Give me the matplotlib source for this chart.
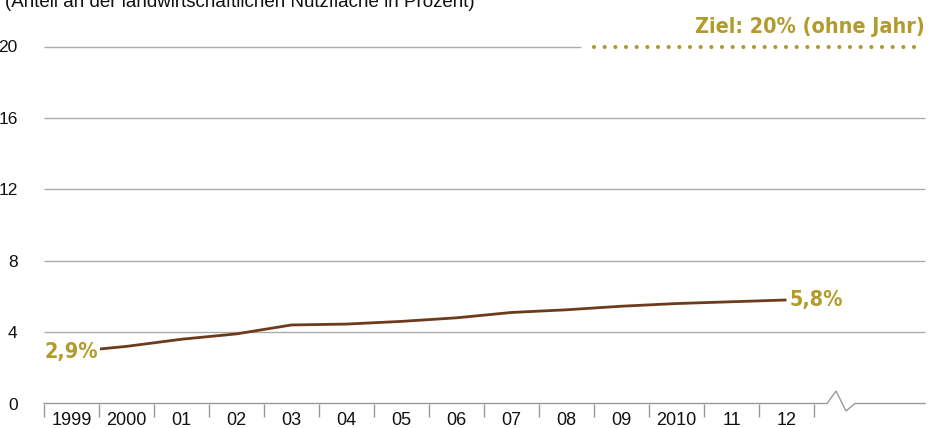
import matplotlib
matplotlib.use("Agg")
import matplotlib.pyplot as plt
from matplotlib import font_manager as fm

# ---- data ----
years = [1999, 2000, 2001, 2002, 2003, 2004, 2005, 2006, 2007, 2008, 2009, 2010, 2011, 2012]
share = [2.9, 3.2, 3.6, 3.9, 4.4, 4.45, 4.6, 4.8, 5.1, 5.25, 5.45, 5.6, 5.7, 5.8]
year_labels = ["1999", "2000", "01", "02", "03", "04", "05", "06", "07", "08", "09", "2010", "11", "12"]
y_ticks = [0, 4, 8, 12, 16, 20]
target = 20
subtitle = "(Anteil an der landwirtschaftlichen Nutzfläche in Prozent)"
target_label = "Ziel: 20% (ohne Jahr)"
first_label = "2,9%"
last_label = "5,8%"

# ---- fonts ----
names = {f.name for f in fm.fontManager.ttflist}
base_font = "Liberation Sans" if "Liberation Sans" in names else "DejaVu Sans"
plt.rcParams["font.family"] = [base_font, "DejaVu Sans"]

def pick_condensed():
    rank = {"ultra-condensed": 0, "extra-condensed": 1, "condensed": 2, "semi-condensed": 3}
    cands = []
    for f in fm.fontManager.ttflist:
        st = f.stretch if isinstance(f.stretch, str) else ""
        nm = f.name.lower()
        r = rank.get(st, None)
        if r is None:
            if "extra condensed" in nm or "extracondensed" in nm:
                r = 1
            elif "condensed" in nm or "narrow" in nm:
                r = 2
        if r is None:
            continue
        w = f.weight if isinstance(f.weight, int) else (700 if "bold" in str(f.weight) else 400)
        if w < 600 or "italic" in f.style or "oblique" in f.style:
            continue
        cands.append((r, abs(w - 700), f.fname))
    if cands:
        cands.sort()
        return cands[0][2]
    return None

cond_path = pick_condensed()

def cond_props(size):
    if cond_path:
        return fm.FontProperties(fname=cond_path, size=size)
    return fm.FontProperties(family="DejaVu Sans", stretch="condensed", weight="bold", size=size)

W, H = 936, 428
fig = plt.figure(figsize=(W / 100, H / 100), dpi=100)
L, R = 44, 925
y0px, y20px = 403.5, 46.5
ax = fig.add_axes([L / W, (H - y0px) / H, (R - L) / W, (y0px - y20px) / H])

px_per_year = 55.0
x0 = years[0] - 0.5
x1 = x0 + (R - L) / px_per_year
ax.set_xlim(x0, x1)
ax.set_ylim(0, 20)

for s in ax.spines.values():
    s.set_visible(False)

grid_c = "#ababab"
gold = "#b39b2b"
brown = "#6e3a1c"

def px2x(px):
    return x0 + (px - L) / px_per_year

def py2y(py):
    return (y0px - py) / (y0px - y20px) * 20

# gridlines
for yv in y_ticks[1:-1]:
    ax.plot([x0, x1], [yv, yv], color=grid_c, lw=1.0, solid_capstyle="butt", clip_on=False, zorder=1)
ax.plot([x0, px2x(581)], [target, target], color=grid_c, lw=1.0, solid_capstyle="butt", clip_on=False, zorder=1)
# dotted target line
ax.plot([px2x(594), px2x(924)], [target, target], color=gold, lw=3.0,
        linestyle=(0, (0.01, 2.55)), dash_capstyle="round", clip_on=False, zorder=2)

# baseline with break
bx = [x0, px2x(827), px2x(836), px2x(846), px2x(855), x1]
by = [0, 0, py2y(391), py2y(411), 0, 0]
ax.plot(bx, by, color="#999999", lw=1.0, clip_on=False, zorder=2, solid_joinstyle="miter")

# ticks
bounds = [y - 0.5 for y in years] + [years[-1] + 0.5]
ax.set_xticks(bounds)
ax.set_xticklabels([])
ax.tick_params(axis="x", which="major", length=9, width=1.0, color="#999999", direction="out")
ax.set_xticks(years, minor=True)
ax.set_xticklabels(year_labels, minor=True, fontsize=13)
ax.tick_params(axis="x", which="minor", length=0, pad=6, labelcolor="#111111")

ax.set_yticks(y_ticks)
ax.set_yticklabels([str(v) for v in y_ticks], fontsize=12.5, color="#111111")
ax.tick_params(axis="y", length=0, pad=19)

# data line
ax.plot(years, share, color=brown, lw=2.0, solid_capstyle="butt", zorder=3, clip_on=False)

# labels
fs = 15.5
fig.text(R / W, 1 - 33 / H, target_label, color=gold, ha="right", va="baseline",
         fontproperties=cond_props(fs))
ax.text(px2x(45), share[0], first_label, color=gold, ha="left", va="center",
        zorder=4, bbox=dict(facecolor="white", edgecolor="none", pad=1), fontproperties=cond_props(fs))
ax.text(px2x(790), share[-1], last_label, color=gold, ha="left", va="center",
        zorder=4, fontproperties=cond_props(fs))
fig.text(5 / W, 1 - 7 / H, subtitle, fontsize=13.5, color="#111111", ha="left", va="baseline")

fig.savefig("out.png", dpi=100)
